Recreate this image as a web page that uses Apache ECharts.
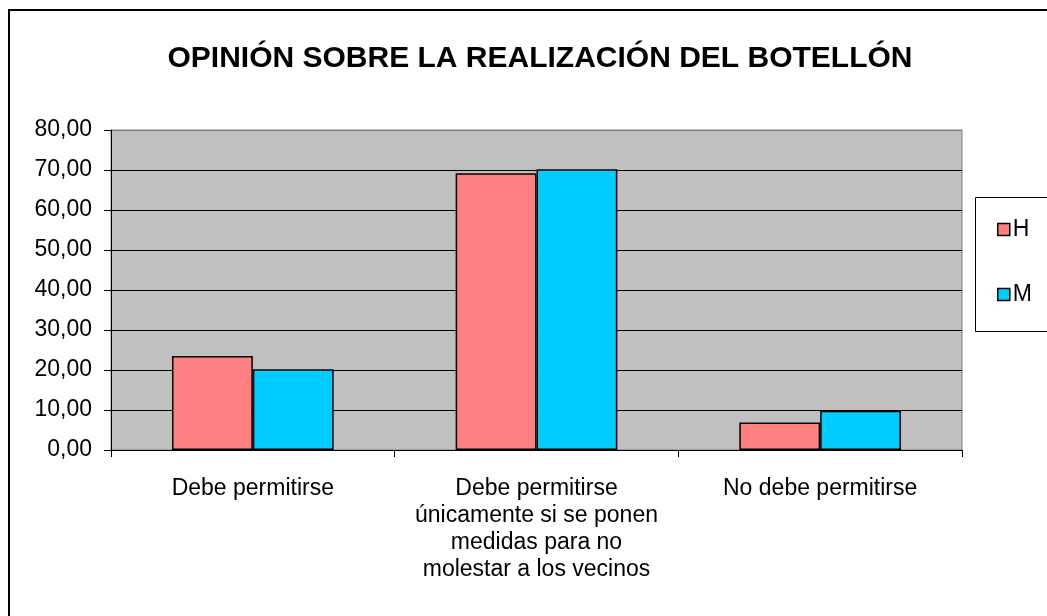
<!DOCTYPE html>
<html>
<head>
<meta charset="utf-8">
<script src="https://cdn.jsdelivr.net/npm/echarts@6/dist/echarts.min.js"></script>
<style>html,body{margin:0;padding:0;background:#fff}#c{width:1047px;height:616px}</style>
</head>
<body>
<div id="c"></div>
<script>
const titleText = 'OPINIÓN SOBRE LA REALIZACIÓN DEL BOTELLÓN';
const categories = ['Debe permitirse', 'Debe permitirse\núnicamente si se ponen\nmedidas para no\nmolestar a los vecinos', 'No debe permitirse'];
const seriesNames = ['H', 'M'];
const valuesH = [23.5, 69.2, 6.9];
const valuesM = [20.2, 70.2, 9.8];
const yTicks = [0, 10, 20, 30, 40, 50, 60, 70, 80];

const chart = echarts.init(document.getElementById('c'), null, {renderer: 'canvas'});
const font = 'Liberation Sans, Arial, sans-serif';
const gridColors = yTicks.map((t, i) => i === yTicks.length - 1 ? '#808080' : '#000000');
chart.setOption({
  animation: false,
  backgroundColor: '#ffffff',
  textStyle: {fontFamily: font},
  title: {
    text: titleText, left: 535, top: 39, textAlign: 'center',
    textStyle: {fontFamily: font, fontSize: 30, fontWeight: 'bold', color: '#000'}
  },
  grid: {left: 111, right: 85, top: 130, bottom: 166, show: true, backgroundColor: '#C0C0C0', borderColor: '#808080', borderWidth: 1},
  legend: {
    orient: 'vertical', left: 992, top: 213, itemWidth: 12, itemHeight: 12, itemGap: 42,
    icon: 'rect',
    data: seriesNames,
    textStyle: {fontFamily: font, fontSize: 23, lineHeight: 22, color: '#000', padding: [0, 0, 0, -2]},
    itemStyle: {borderColor: '#000', borderWidth: 1.5}
  },
  xAxis: {
    type: 'category', data: categories,
    axisLine: {lineStyle: {color: '#000', width: 1}},
    axisTick: {show: true, length: 7, lineStyle: {color: '#000'}},
    axisLabel: {
      fontFamily: font, fontSize: 23, color: '#000', margin: 25, lineHeight: 27, interval: 0
    }
  },
  yAxis: {
    type: 'value', min: 0, max: 80, interval: 10,
    axisLine: {show: true, lineStyle: {color: '#000', width: 1}},
    axisTick: {show: true, length: 7, lineStyle: {color: '#000'}},
    splitLine: {show: true, lineStyle: {color: gridColors, width: 1}},
    axisLabel: {
      fontFamily: font, fontSize: 23, color: '#000', margin: 19,
      formatter: v => v.toFixed(2).replace('.', ',')
    }
  },
  series: [
    {name: seriesNames[0], type: 'bar', data: valuesH, barGap: '0%', barCategoryGap: '43%',
     itemStyle: {color: '#FF8080', borderColor: '#000', borderWidth: 1.5}},
    {name: seriesNames[1], type: 'bar', data: valuesM, barGap: '0%', barCategoryGap: '43%',
     itemStyle: {color: '#00CCFF', borderColor: '#000', borderWidth: 1.5}}
  ],
  graphic: [
    {type: 'rect', shape: {x: 9, y: 10, width: 1100, height: 700}, style: {fill: 'none', stroke: '#000', lineWidth: 2}, z: 100},
    {type: 'rect', shape: {x: 975.5, y: 197.5, width: 100, height: 134}, style: {fill: 'none', stroke: '#000', lineWidth: 1}, z: 100}
  ]
});
</script>
</body>
</html>
